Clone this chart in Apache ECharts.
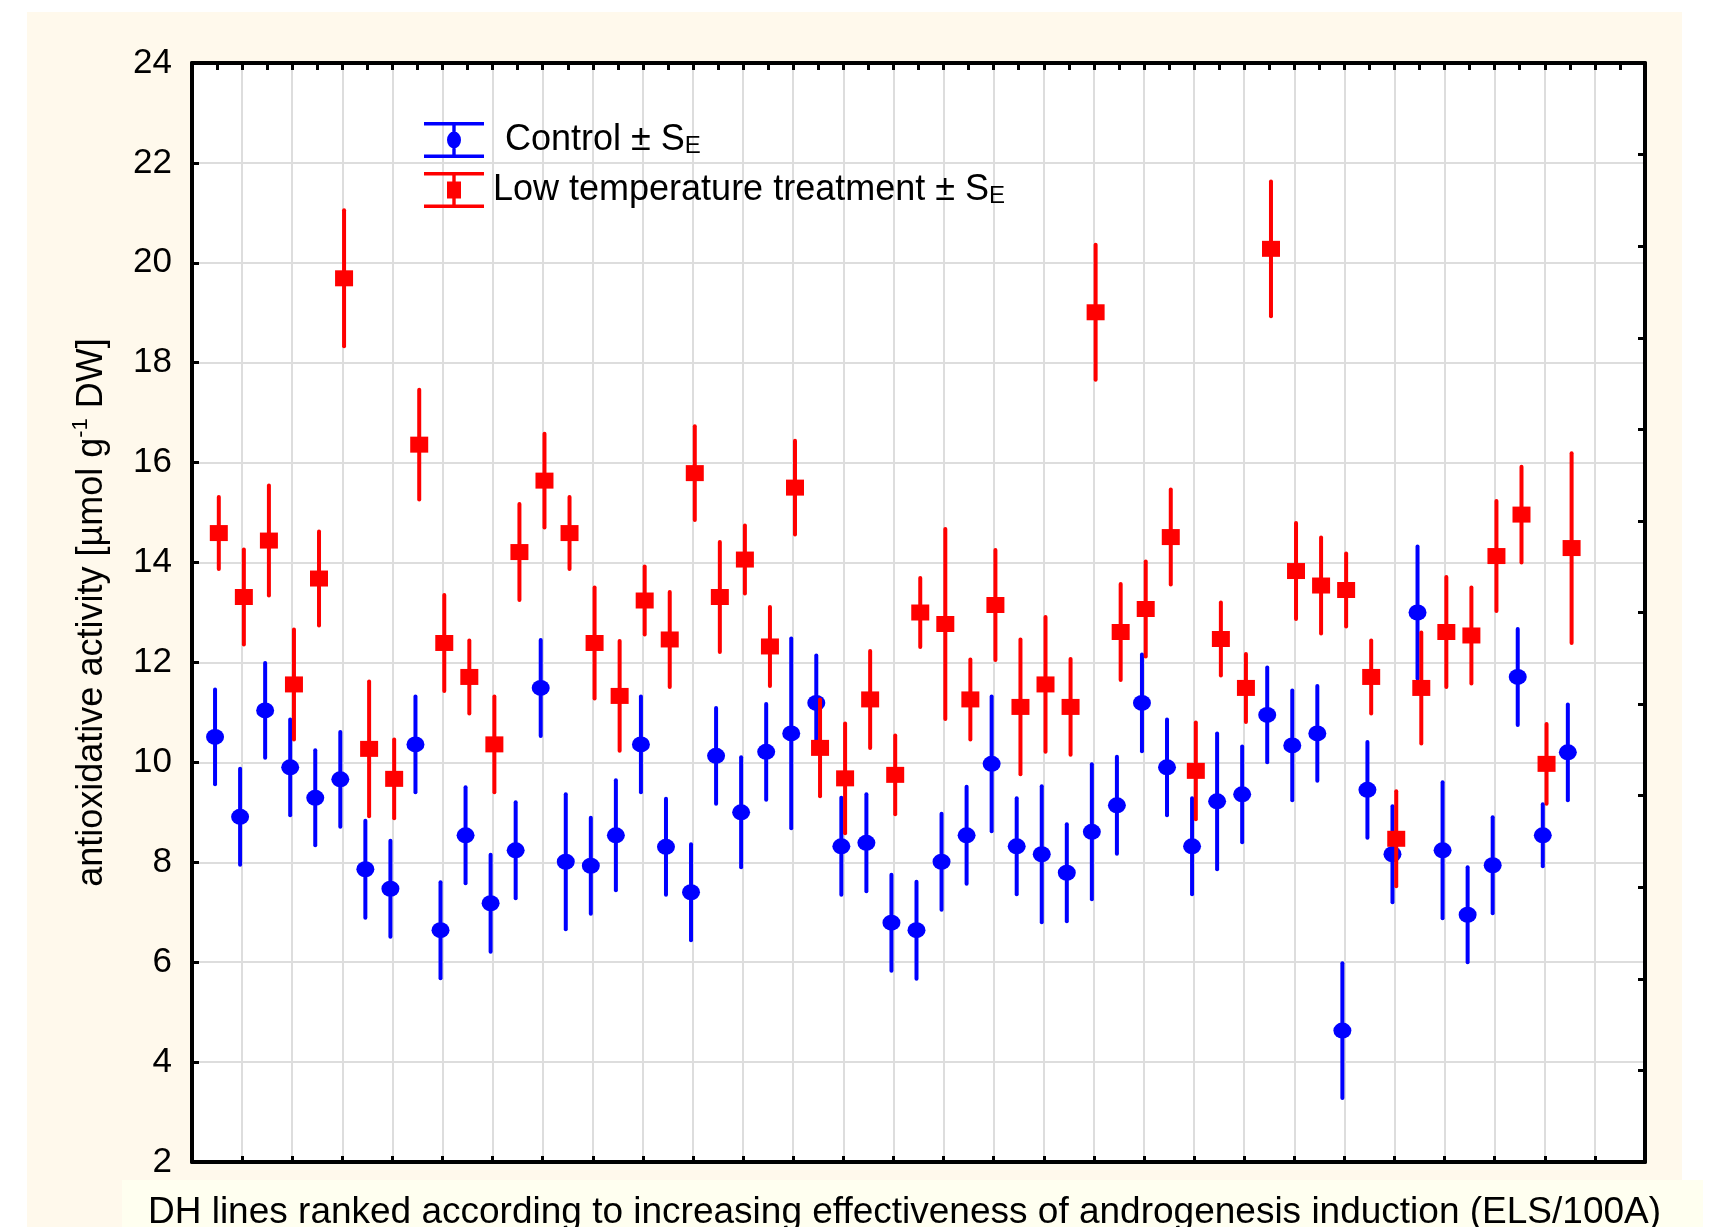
<!DOCTYPE html>
<html>
<head>
<meta charset="utf-8">
<style>
  html, body { margin: 0; padding: 0; background: #fff; }
  #chart { width: 1715px; height: 1227px; }
</style>
<script src="https://cdn.jsdelivr.net/npm/echarts@6/dist/echarts.min.js"></script>
</head>
<body>
<div id="chart"></div>
<script>
// 55 DH lines, ranked by androgenesis effectiveness (left -> right)
const controlMean = [
  10.51, 8.91, 11.04, 9.90, 9.29, 9.66, 7.86, 7.47, 10.36, 6.64,
  8.54, 7.18, 8.24, 11.49, 8.01, 7.93, 8.54, 10.36, 8.31, 7.40,
  10.13, 9.00, 10.21, 10.58, 11.19, 8.32, 8.39, 6.79, 6.64, 8.01,
  8.54, 9.97, 8.32, 8.16, 7.79, 8.61, 9.14, 11.19, 9.90, 8.32,
  9.22, 9.36, 10.95, 10.34, 10.58, 4.63, 9.45, 8.16, 13.00, 8.24,
  6.95, 7.94, 11.71, 8.54, 10.20
]
const controlSE = [
  0.95, 0.96, 0.95, 0.96, 0.95, 0.95, 0.97, 0.96, 0.96, 0.96,
  0.96, 0.97, 0.96, 0.96, 1.35, 0.96, 1.10, 0.96, 0.96, 0.96,
  0.96, 1.10, 0.96, 1.90, 0.95, 0.97, 0.97, 0.96, 0.97, 0.96,
  0.97, 1.35, 0.96, 1.36, 0.97, 1.35, 0.97, 0.97, 0.96, 0.96,
  1.36, 0.96, 0.95, 1.10, 0.95, 1.35, 0.96, 0.96, 1.32, 1.36,
  0.95, 0.96, 0.96, 0.62, 0.96
]
const lowTempMean = [
  14.59, 13.31, 14.44, 11.56, 13.68, 19.69, 10.27, 9.67, 16.36, 12.39,
  11.71, 10.36, 14.21, 15.64, 14.59, 12.39, 11.33, 13.24, 12.46, 15.79,
  13.31, 14.06, 12.32, 15.50, 10.29, 9.68, 11.26, 9.75, 13.00, 12.77,
  11.26, 13.15, 11.11, 11.56, 11.11, 19.01, 12.61, 13.07, 14.51, 9.83,
  12.47, 11.49, 20.28, 13.83, 13.54, 13.45, 11.71, 8.47, 11.49, 12.61,
  12.54, 14.13, 14.96, 9.97, 14.29
]
const lowTempSE = [
  0.72, 0.95, 1.10, 1.10, 0.94, 1.36, 1.35, 0.79, 1.10, 0.96,
  0.73, 0.96, 0.96, 0.94, 0.72, 1.11, 1.10, 0.68, 0.95, 0.94,
  1.10, 0.68, 0.79, 0.94, 0.97, 1.10, 0.97, 0.79, 0.69, 1.90,
  0.80, 1.10, 1.35, 1.35, 0.96, 1.35, 0.96, 0.95, 0.95, 0.97,
  0.73, 0.68, 1.35, 0.96, 0.96, 0.73, 0.73, 0.95, 1.11, 1.10,
  0.96, 1.10, 0.96, 0.80, 1.90
]

const yMin = 2, yMax = 24, yStep = 2
const xMax = 29

const FONT = '"Liberation Sans", Arial, sans-serif'
const BLUE = '#0000ff'
const RED = '#ff0000'

// lines sit every half grid step, the two treatments nudged apart a little
const rankPos = i => 0.5 + 0.5 * i
const points = (mean, dx) => mean.map((v, i) => [rankPos(i) + dx, v])
const bars = (mean, se, dx) => mean.map((v, i) => [rankPos(i) + dx, v - se[i], v + se[i]])

function errBar(color, width) {
  return function (params, api) {
    const x = api.value(0)
    const a = api.coord([x, api.value(1)])
    const b = api.coord([x, api.value(2)])
    return {
      type: 'line',
      shape: { x1: a[0], y1: a[1], x2: b[0], y2: b[1] },
      style: { stroke: color, lineWidth: width, lineCap: 'round' },
    }
  }
}

// legend glyphs: capped error bar with the marker in the middle (60 x 36 box)
const ICON_BAR = 'M0,0H60V3.5H0Z M0,32.5H60V36H0Z M28.3,3.5H31.7V32.5H28.3Z '
const ICON_CTRL = 'path://' + ICON_BAR + 'M23,18A7,8.5 0 1,1 37,18A7,8.5 0 1,1 23,18Z'
const ICON_LOW = 'path://' + ICON_BAR + 'M23,9.5H37V26.5H23Z'

const axisLine = { show: true, onZero: false, lineStyle: { color: '#000', width: 4 } }
const tick = len => ({ show: true, inside: true, length: len, lineStyle: { color: '#000', width: 3 } })
const grid = { show: true, lineStyle: { color: '#dddddd', width: 2 } }

const chart = echarts.init(document.getElementById('chart'))
chart.setOption({
  backgroundColor: '#fff',
  animation: false,
  textStyle: { fontFamily: FONT },
  graphic: [
    { type: 'rect', z: -10, silent: true, shape: { x: 27, y: 12, width: 1655, height: 1215 }, style: { fill: '#fff9ec' } },
    { type: 'rect', z: -9, silent: true, shape: { x: 122, y: 1180, width: 1581, height: 47 }, style: { fill: '#fffff0' } },
  ],
  grid: {
    left: 192, right: 70, top: 63, bottom: 65,
    show: true, backgroundColor: '#fff', borderWidth: 0,
    containLabel: false, outerBoundsMode: 'none',
  },
  legend: {
    orient: 'vertical', left: 419, top: 117, padding: 5,
    itemWidth: 60, itemHeight: 36, itemGap: 14,
    selectedMode: false,
    data: [
      { name: 'Control', icon: ICON_CTRL },
      { name: 'Low temperature treatment', icon: ICON_LOW },
    ],
    formatter: name => name === 'Control'
      ? '{c|Control ± S}{s|E}'
      : '{l|Low temperature treatment ± S}{s|E}',
    textStyle: {
      color: '#000', fontSize: 36, fontFamily: FONT,
      rich: {
        c: { fontSize: 36, lineHeight: 36, verticalAlign: 'top', color: '#000', fontFamily: FONT, padding: [0, 0, 0, 16] },
        l: { fontSize: 36, lineHeight: 36, verticalAlign: 'top', color: '#000', fontFamily: FONT, padding: [0, 0, 0, 4] },
        s: { fontSize: 24, lineHeight: 12, verticalAlign: 'bottom', color: '#000', fontFamily: FONT },
      },
    },
  },
  xAxis: [
    {
      type: 'value', position: 'bottom', min: 0, max: xMax, interval: 1,
      axisLine, axisTick: tick(6), axisLabel: { show: false }, splitLine: grid,
      name: 'DH lines ranked according to increasing effectiveness of androgenesis induction (ELS/100A)',
      nameLocation: 'middle', nameGap: 32, nameMoveOverlap: false,
      nameTextStyle: { color: '#000', fontSize: 37, fontFamily: FONT, padding: [0, 28, 0, 0] },
    },
    {
      type: 'value', position: 'top', min: 0, max: xMax, interval: 0.5,
      axisLine, axisTick: tick(7), axisLabel: { show: false }, splitLine: { show: false },
    },
  ],
  yAxis: [
    {
      type: 'value', position: 'left', min: yMin, max: yMax, interval: yStep,
      axisLine, axisTick: tick(7), splitLine: grid,
      axisLabel: { color: '#000', fontSize: 35, margin: 20, fontFamily: FONT },
      name: '{a|antioxidative activity [µmol g}{p|-1}{a| DW]}',
      nameLocation: 'middle', nameRotate: 90, nameGap: 82, nameMoveOverlap: false,
      nameTextStyle: {
        color: '#000', fontFamily: FONT,
        rich: {
          a: { fontSize: 36, lineHeight: 40, verticalAlign: 'bottom', color: '#000', fontFamily: FONT },
          p: { fontSize: 22, lineHeight: 22, verticalAlign: 'top', color: '#000', fontFamily: FONT },
        },
      },
    },
    {
      // right frame: its own tick spacing, no labels
      type: 'value', position: 'right', min: 0, max: 12, interval: 1,
      axisLine, axisTick: tick(7), axisLabel: { show: false }, splitLine: { show: false },
    },
  ],
  series: [
    {
      name: 'controlErr', type: 'custom', silent: true, z: 2,
      renderItem: errBar(BLUE, 4), encode: { x: 0, y: [1, 2] },
      data: bars(controlMean, controlSE, -0.04),
    },
    {
      name: 'Control', type: 'scatter', z: 3,
      symbol: 'circle', symbolSize: [18, 16],
      itemStyle: { color: BLUE, opacity: 1 },
      data: points(controlMean, -0.04),
    },
    {
      name: 'lowErr', type: 'custom', silent: true, z: 4,
      renderItem: errBar(RED, 4), encode: { x: 0, y: [1, 2] },
      data: bars(lowTempMean, lowTempSE, 0.035),
    },
    {
      name: 'Low temperature treatment', type: 'scatter', z: 5,
      symbol: 'rect', symbolSize: [18, 16],
      itemStyle: { color: RED, opacity: 1 },
      data: points(lowTempMean, 0.035),
    },
  ],
})
</script>
</body>
</html>
